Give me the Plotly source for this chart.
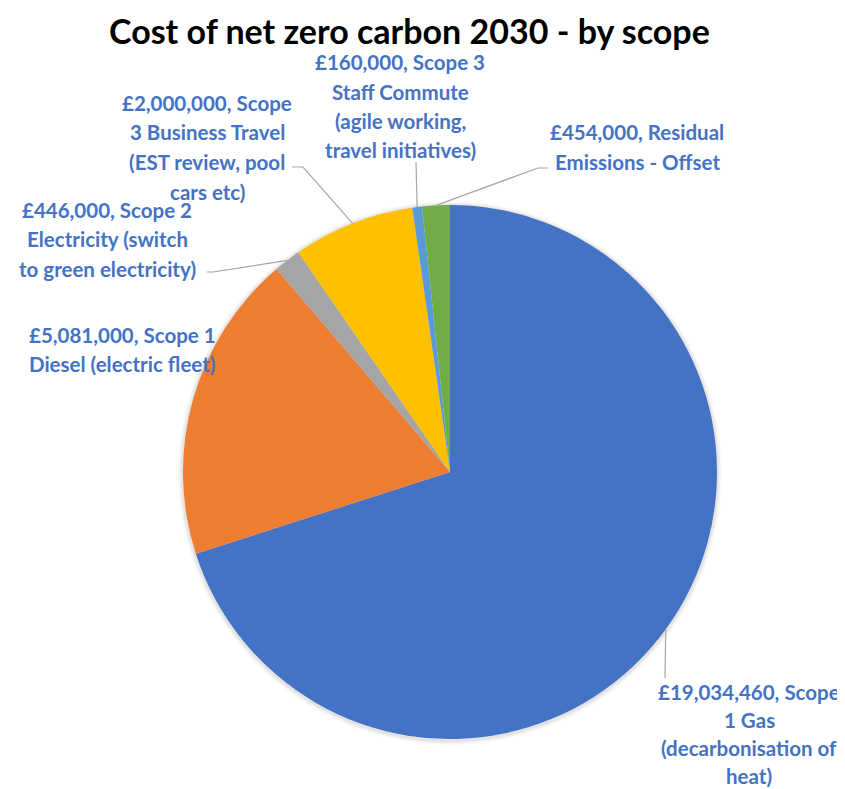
import math
import plotly.graph_objects as go

# ---- data ----
categories = [
    "Scope 1 Gas (decarbonisation of heat)",
    "Scope 1 Diesel (electric fleet)",
    "Scope 2 Electricity (switch to green electricity)",
    "Scope 3 Business Travel (EST review, pool cars etc)",
    "Scope 3 Staff Commute (agile working, travel initiatives)",
    "Residual Emissions - Offset",
]
values = [19034460, 5081000, 446000, 2000000, 160000, 454000]
colors = ["#4472C4", "#ED7D31", "#A5A5A5", "#FFC000", "#5B9BD5", "#70AD47"]

# label text lines (as wrapped in the reference)
label_lines = [
    ["£19,034,460, Scope", "1 Gas", "(decarbonisation of", "heat)"],
    ["£5,081,000, Scope 1", "Diesel (electric fleet)"],
    ["£446,000, Scope 2", "Electricity (switch", "to green electricity)"],
    ["£2,000,000, Scope", "3 Business Travel", "(EST review, pool", "cars etc)"],
    ["£160,000, Scope 3", "Staff Commute", "(agile working,", "travel initiatives)"],
    ["£454,000, Residual", "Emissions - Offset"],
]

# ---- layout (page pixels; the figure sits at an 8px body margin) ----
W, H = 845, 789
OFF = 8
CX, CY, R = 450, 472, 267
label_centers = [(749, 692), (122, 335), (107, 210), (207, 103), (400, 62), (637, 132)]
line_steps = [28, 29.5, 29.5, 29.5, 29.5, 29.5]
leader_elbows = [
    [(665, 678)],
    None,
    [(213, 272), (207, 272)],
    [(303, 167), (292, 167)],
    [(416, 162)],
    [(538, 168), (548, 168)],
]

def px(x):
    return (x - OFF) / W

def py(y):
    return 1 - (y - OFF) / H

fig = go.Figure()
fig.add_trace(go.Pie(
    labels=categories,
    values=values,
    sort=False,
    direction="clockwise",
    rotation=0,
    marker=dict(colors=colors, line=dict(width=0)),
    textinfo="none",
    hoverinfo="label+value",
    showlegend=False,
    domain=dict(x=[px(CX - R), px(CX + R)], y=[py(CY + R), py(CY - R)]),
))

annotations = []
for (lx, ly), step, lines in zip(label_centers, line_steps, label_lines):
    for i, t in enumerate(lines):
        annotations.append(dict(
            x=px(lx), y=py(ly + i * step), xref="paper", yref="paper",
            text=t, showarrow=False, xanchor="center", yanchor="middle",
            font=dict(family="Lato", size=20.5, color="#4472C4", weight="bold"),
        ))

annotations.append(dict(
    x=px(409), y=py(30), xref="paper", yref="paper",
    text="<b>Cost of net zero carbon 2030 - by scope</b>", showarrow=False,
    xanchor="center", yanchor="middle",
    font=dict(family="Lato", size=34, color="#000000"),
))

shapes = []
# soft shadow around the pie
for extra, alpha in [(5, 0.025), (3.5, 0.035), (2, 0.05)]:
    rr = R + extra
    shapes.append(dict(type="circle", xref="paper", yref="paper", layer="below",
                       x0=px(CX - rr), x1=px(CX + rr), y0=py(CY + rr + 1), y1=py(CY - rr + 1),
                       fillcolor=f"rgba(0,0,0,{alpha})", line=dict(width=0)))

total = sum(values)
cum = 0
for v, elbows in zip(values, leader_elbows):
    mid = (cum + v / 2) / total
    cum += v
    if not elbows:
        continue
    ang = 2 * math.pi * mid
    ex = CX + R * math.sin(ang)
    ey = CY - R * math.cos(ang)
    pts = [(ex, ey)] + elbows
    path = "M " + " L ".join(f"{px(x):.5f},{py(y):.5f}" for x, y in pts)
    shapes.append(dict(type="path", path=path, xref="paper", yref="paper",
                       line=dict(color="#A6A6A6", width=1.2)))

fig.update_layout(
    width=W, height=H,
    margin=dict(l=0, r=0, t=0, b=0),
    paper_bgcolor="white", plot_bgcolor="white",
    annotations=annotations, shapes=shapes,
)

fig.write_html("out.html")
